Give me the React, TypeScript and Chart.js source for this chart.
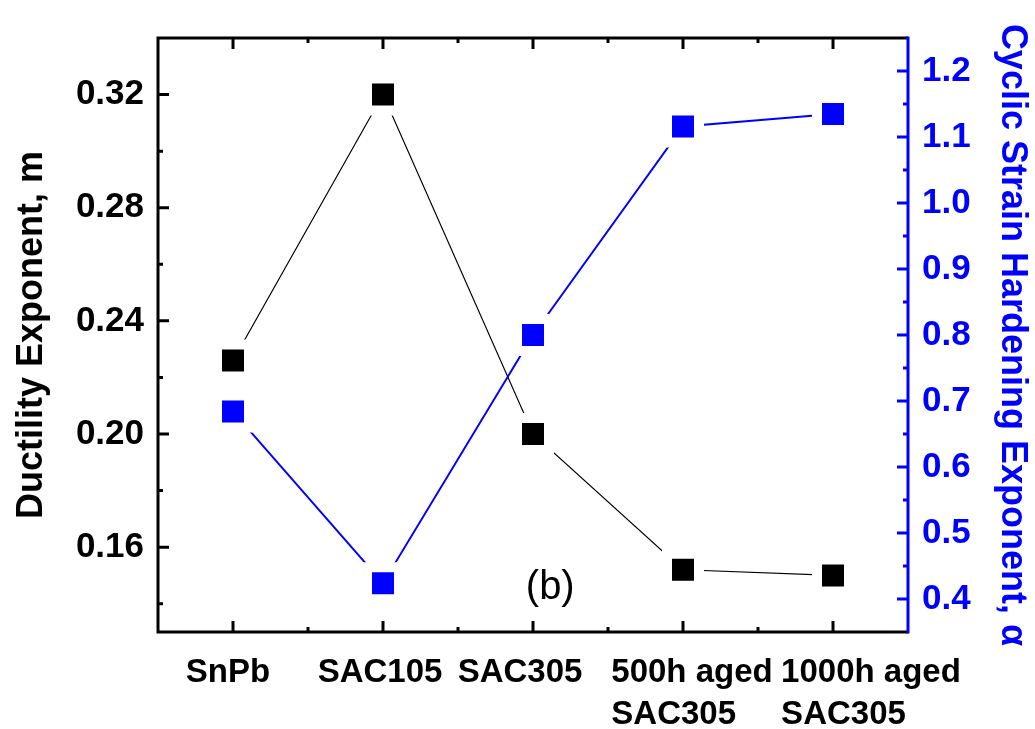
import React, { useEffect, useRef } from 'react';
import { Chart, registerables } from 'chart.js';

Chart.register(...registerables);

// ---- data ----
const categoryLabels: string[][] = [
  ['SnPb'],
  ['SAC105'],
  ['SAC305'],
  ['500h aged', 'SAC305'],
  ['1000h aged', 'SAC305'],
];
const ductilityExponent = [0.226, 0.32, 0.2, 0.152, 0.15];
const hardeningExponent = [0.684, 0.424, 0.8, 1.116, 1.135];
const leftTicks = [0.16, 0.2, 0.24, 0.28, 0.32];
const leftMinorTicks = [0.14, 0.18, 0.22, 0.26, 0.3];
const rightTicks = [0.4, 0.5, 0.6, 0.7, 0.8, 0.9, 1.0, 1.1, 1.2];
const rightMinorTicks = [0.45, 0.55, 0.65, 0.75, 0.85, 0.95, 1.05, 1.15];

const FONT = '"Liberation Sans", Arial, Helvetica, sans-serif';
const BLUE = '#0000ff';
// horizontal nudge of each category label block (style only)
const LABEL_NUDGE = [-5, -3, -13, 9, 38];

const framePlugin = {
  id: 'frame',
  afterDraw(chart: any) {
    const { ctx, chartArea } = chart;
    const { left, right, top, bottom } = chartArea;
    const xs = chart.scales.x;
    const yl = chart.scales.y;
    const yr = chart.scales.y1;
    ctx.save();
    ctx.lineWidth = 3;
    ctx.lineCap = 'butt';
    // black frame (left, top, bottom)
    ctx.strokeStyle = '#000';
    ctx.beginPath();
    ctx.moveTo(right, top);
    ctx.lineTo(left, top);
    ctx.lineTo(left, bottom);
    ctx.lineTo(right, bottom);
    ctx.stroke();
    // blue right axis
    ctx.strokeStyle = BLUE;
    ctx.beginPath();
    ctx.moveTo(right, top - 1.5);
    ctx.lineTo(right, bottom + 1.5);
    ctx.stroke();

    const major = 11;
    const minor = 5;
    // left ticks
    ctx.strokeStyle = '#000';
    ctx.beginPath();
    leftTicks.forEach((v) => {
      const y = yl.getPixelForValue(v);
      ctx.moveTo(left, y);
      ctx.lineTo(left + major, y);
    });
    leftMinorTicks.forEach((v) => {
      const y = yl.getPixelForValue(v);
      ctx.moveTo(left, y);
      ctx.lineTo(left + minor, y);
    });
    // bottom & top ticks
    categoryLabels.forEach((_, i) => {
      const x = xs.getPixelForValue(i);
      ctx.moveTo(x, bottom);
      ctx.lineTo(x, bottom - major);
      ctx.moveTo(x, top);
      ctx.lineTo(x, top + major);
      if (i < categoryLabels.length - 1) {
        const xm = xs.getPixelForValue(i + 0.5);
        ctx.moveTo(xm, bottom);
        ctx.lineTo(xm, bottom - minor);
        ctx.moveTo(xm, top);
        ctx.lineTo(xm, top + minor);
      }
    });
    ctx.stroke();
    // right ticks
    ctx.strokeStyle = BLUE;
    ctx.beginPath();
    rightTicks.forEach((v) => {
      const y = yr.getPixelForValue(v);
      ctx.moveTo(right, y);
      ctx.lineTo(right - major, y);
    });
    rightMinorTicks.forEach((v) => {
      const y = yr.getPixelForValue(v);
      ctx.moveTo(right, y);
      ctx.lineTo(right - minor, y);
    });
    ctx.stroke();

    // x category labels (lines left-aligned within their block)
    ctx.fillStyle = '#000';
    ctx.font = `bold 33px ${FONT}`;
    ctx.textAlign = 'left';
    ctx.textBaseline = 'alphabetic';
    categoryLabels.forEach((lines, i) => {
      const x = xs.getPixelForValue(i) + LABEL_NUDGE[i];
      const w = Math.max(...lines.map((l) => ctx.measureText(l).width));
      lines.forEach((l, j) => {
        ctx.fillText(l, x - w / 2, bottom + 50 + j * 42);
      });
    });

    // panel label
    ctx.font = `40px ${FONT}`;
    ctx.textAlign = 'center';
    ctx.fillText('(b)', left + (right - left) * 0.523, bottom - 33);
    ctx.restore();
  },
};

export default function App() {
  const canvasRef = useRef<HTMLCanvasElement | null>(null);

  useEffect(() => {
    document.body.style.margin = '0';
    const canvas = canvasRef.current;
    if (!canvas) return;
    const chart = new Chart(canvas, {
      type: 'line',
      data: {
        labels: categoryLabels.map((l) => l.join(' ')),
        datasets: [
          {
            label: 'Ductility Exponent, m',
            data: ductilityExponent,
            yAxisID: 'y',
            borderColor: '#000',
            borderWidth: 1.2,
            backgroundColor: '#000',
            pointStyle: 'rect',
            pointRadius: 22.6,
            pointHoverRadius: 22.6,
            pointBackgroundColor: '#000',
            pointBorderColor: '#fff',
            pointBorderWidth: 10,
            tension: 0,
          },
          {
            label: 'Cyclic Strain Hardening Exponent, α',
            data: hardeningExponent,
            yAxisID: 'y1',
            borderColor: BLUE,
            borderWidth: 2,
            backgroundColor: BLUE,
            pointStyle: 'rect',
            pointRadius: 22.6,
            pointHoverRadius: 22.6,
            pointBackgroundColor: BLUE,
            pointBorderColor: '#fff',
            pointBorderWidth: 10,
            tension: 0,
          },
        ],
      },
      options: {
        animation: false,
        responsive: false,
        devicePixelRatio: 1,
        layout: { padding: { top: 38, left: 0, right: 0, bottom: 0 } },
        plugins: {
          legend: { display: false },
          tooltip: { enabled: false },
        },
        scales: {
          x: {
            type: 'category',
            offset: true,
            grid: { display: false, drawTicks: false },
            border: { display: false },
            ticks: { display: false },
            afterFit: (s: any) => {
              s.height = 97;
            },
          },
          y: {
            position: 'left',
            min: 0.13,
            max: 0.34,
            afterBuildTicks: (s: any) => {
              s.ticks = leftTicks.map((v) => ({ value: v }));
            },
            grid: { display: false, drawTicks: false },
            border: { display: false },
            ticks: {
              color: '#000',
              padding: 14,
              font: { family: FONT, size: 35, weight: 'bold' },
              callback: (v: any) => Number(v).toFixed(2),
            },
            title: {
              display: true,
              text: 'Ductility Exponent, m',
              color: '#000',
              font: { family: FONT, size: 36, weight: 'bold', lineHeight: 1.2 },
              padding: { top: 10, bottom: 0 },
            },
            afterFit: (s: any) => {
              s.width = 158;
            },
          },
          y1: {
            position: 'right',
            min: 0.35,
            max: 1.25,
            afterBuildTicks: (s: any) => {
              s.ticks = rightTicks.map((v) => ({ value: v }));
            },
            grid: { display: false, drawTicks: false },
            border: { display: false },
            ticks: {
              color: BLUE,
              padding: 14,
              font: { family: FONT, size: 35, weight: 'bold' },
              callback: (v: any) => Number(v).toFixed(1),
            },
            title: {
              display: true,
              text: 'Cyclic Strain Hardening Exponent, α',
              color: BLUE,
              font: { family: FONT, size: 36, weight: 'bold', lineHeight: 1.2 },
              padding: { top: 1.5, bottom: 0 },
            },
            afterFit: (s: any) => {
              s.width = 127;
            },
          },
        },
      },
      plugins: [framePlugin],
    });
    return () => chart.destroy();
  }, []);

  return (
    <div style={{ width: 1035, height: 729, background: '#fff' }}>
      <canvas ref={canvasRef} width={1035} height={729} style={{ display: 'block' }} />
    </div>
  );
}
